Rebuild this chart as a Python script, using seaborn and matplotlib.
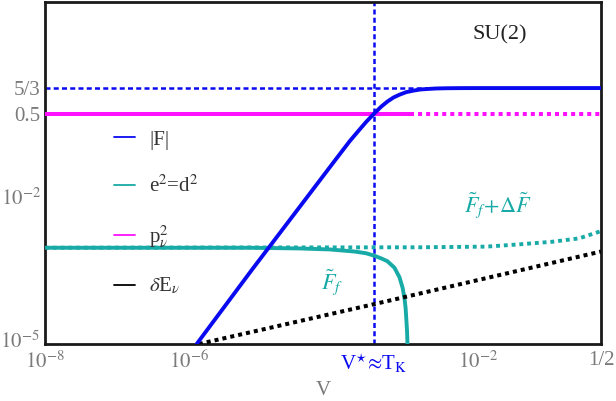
import matplotlib
matplotlib.use('Agg')
import matplotlib.pyplot as plt
import matplotlib.transforms as mtransforms
from matplotlib.lines import Line2D
import seaborn as sns

# values (log-log axes)
v_star = 3.6e-4

F_v = [1.26e-6, 7.3e-6, 3.37e-5, 1.0e-4, 1.66e-4, 2.2e-4, 2.8e-4, 3.6e-4, 4.5e-4,
       5.5e-4, 6.7e-4, 8.1e-4, 1.0e-3, 1.24e-3, 1.55e-3, 1.9e-3, 2.6e-3, 3.6e-3,
       5.5e-3, 1e-2, 0.5]
F_y = [1e-5, 3.24e-4, 6.3e-3, 0.052, 0.138, 0.225, 0.34, 0.5, 0.692,
       0.883, 1.071, 1.22, 1.374, 1.47, 1.555, 1.59, 1.634, 1.652,
       1.662, 1.666, 1.667]

ed_v = [1e-8, 6.8e-6, 3.4e-5, 8.7e-5, 1.94e-4, 2.8e-4, 3.66e-4, 4.5e-4, 5.5e-4,
        6.9e-4, 8.1e-4, 8.95e-4, 9.5e-4, 9.85e-4, 1.03e-3, 1.05e-3]
ed_y = [9.2e-4, 9.2e-4, 8.9e-4, 8.5e-4, 7.7e-4, 7.1e-4, 6.3e-4, 5.6e-4, 4.9e-4,
        3.6e-4, 2.3e-4, 1.4e-4, 8.6e-5, 5.4e-5, 1.9e-5, 8e-6]

edf_v = [1e-8, 1.54e-3, 1.3e-2, 3.7e-2, 0.106, 0.25, 0.445, 0.5]
edf_y = [9.2e-4, 9.4e-4, 9.7e-4, 1.08e-3, 1.22e-3, 1.43e-3, 1.9e-3, 2.0e-3]

p_v_solid = [1e-8, 1.12e-3]
p_v_dot = [1.12e-3, 0.5]
p_y = [0.5, 0.5]

dE_v = [1.35e-6, 3.6e-4, 0.5]
dE_y = [1e-5, 6.5e-5, 7.7e-4]

xticks = [1e-8, 1e-6, v_star, 1e-2, 0.5]
xticklabels = [r'$10^{-8}$', r'$10^{-6}$', r'V$^{\star}\!\approx\!$T$_{\rm K}$', r'$10^{-2}$', '1/2']
yticks = [1e-5, 1e-2, 0.5, 5 / 3]
yticklabels = [r'$10^{-5}$', r'$10^{-2}$', '0.5', '5/3']

blue = '#0a0af0'
teal = '#18aaa6'
magenta = '#ff10ff'
gray = '#7a7a7a'

sns.set_style('white')
plt.rcParams['font.family'] = ['Liberation Serif', 'DejaVu Serif']
plt.rcParams['mathtext.fontset'] = 'stix'

fig = plt.figure(figsize=(6.16, 4.01), dpi=100)
ax = fig.add_axes([45 / 616, 57 / 401, 556 / 616, 342 / 401])
ax.set_xscale('log')
ax.set_yscale('log')

dot = (0, (1, 1))
# reference lines
ax.axvline(v_star, color=blue, lw=1.8, ls=(0, (2, 1.3)), zorder=1)
ax.axhline(5 / 3, color=blue, lw=1.8, ls=(0, (2, 1.3)), zorder=1)

sns.lineplot(x=edf_v, y=edf_y, ax=ax, color=teal, lw=2.8, linestyle=dot,
             sort=False, estimator=None, zorder=2)
sns.lineplot(x=ed_v, y=ed_y, ax=ax, color=teal, lw=2.8, sort=False, estimator=None, zorder=3)
sns.lineplot(x=p_v_solid, y=p_y, ax=ax, color=magenta, lw=2.9, sort=False, estimator=None, zorder=3)
sns.lineplot(x=p_v_dot, y=p_y, ax=ax, color=magenta, lw=2.9, linestyle=dot,
             sort=False, estimator=None, zorder=3)
sns.lineplot(x=dE_v, y=dE_y, ax=ax, color='black', lw=2.9, linestyle=dot,
             sort=False, estimator=None, zorder=3)
sns.lineplot(x=F_v, y=F_y, ax=ax, color=blue, lw=2.8, sort=False, estimator=None, zorder=4)

ax.set_xlim(1e-8, 0.5)
ax.set_ylim(1e-5, 95)

ax.set_xticks(xticks)
ax.set_xticklabels(xticklabels)
ax.set_yticks(yticks)
ax.set_yticklabels(yticklabels)
ax.minorticks_off()
ax.tick_params(direction='in', length=11, width=1.3, color=gray, labelcolor=gray,
               labelsize=15, pad=3)
ax.tick_params(axis='x', pad=5)
ax.get_xticklabels()[2].set_color(blue)
# lift the bottom y label a little so it clears the 10^-8 label
lab = ax.get_yticklabels()[0]
lab.set_transform(lab.get_transform() + mtransforms.ScaledTranslation(-1 / 72, 3 / 72, fig.dpi_scale_trans))
ax.set_xlabel('V', fontsize=15, color=gray, labelpad=5)

for s in ax.spines.values():
    s.set_color('#1a1a1a')
    s.set_linewidth(2)

handles = [Line2D([], [], color=blue, lw=1.3),
           Line2D([], [], color=teal, lw=1.3),
           Line2D([], [], color=magenta, lw=1.3),
           Line2D([], [], color='black', lw=1.3)]
labels = ['|F|', r'e$^2$=d$^2$', r'p$_{\nu}^2$', r'$\delta$E$_{\nu}$']
ax.legend(handles, labels, loc='upper left', bbox_to_anchor=(0.09, 0.68), frameon=False,
          fontsize=15, handlelength=1.0, handletextpad=0.7, labelspacing=1.25,
          labelcolor='#333333')

ax.text(500 / 616, 1 - 35 / 401, 'SU(2)', transform=fig.transFigure, fontsize=16,
        color='#222222', ha='center', va='center')
ax.text(498 / 616, 1 - 205 / 401, r'$\tilde{F}_f\!+\!\Delta\tilde{F}$', transform=fig.transFigure,
        fontsize=16, color=teal, ha='center', va='center')
ax.text(332 / 616, 1 - 282 / 401, r'$\tilde{F}_f$', transform=fig.transFigure,
        fontsize=16, color=teal, ha='center', va='center')

fig.savefig('out.png', dpi=100)
